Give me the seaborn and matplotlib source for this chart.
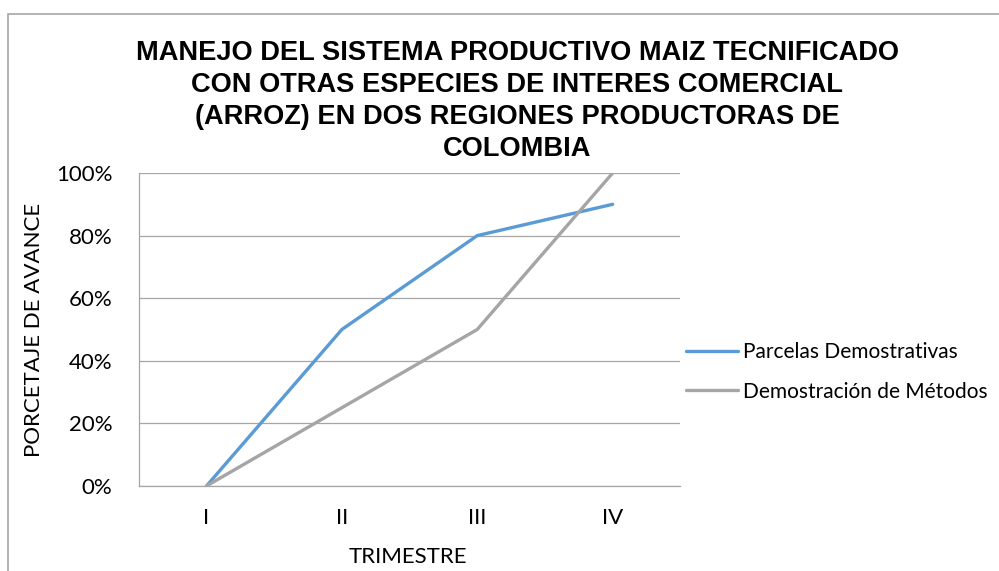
import numpy as np
import pandas as pd
import matplotlib
matplotlib.use('Agg')
import matplotlib.pyplot as plt
import seaborn as sns
from matplotlib.patches import Rectangle

# Data
trimestres = ['I', 'II', 'III', 'IV']
parcelas = [0.0, 0.5, 0.8, 0.9]
metodos = [0.0, 0.25, 0.5, 1.0]
series_names = ['Parcelas Demostrativas', 'Demostración de Métodos']
colors = ['#5B9BD5', '#A5A5A5']
y_ticks = [0, 0.2, 0.4, 0.6, 0.8, 1.0]
y_tick_labels = ['0%', '20%', '40%', '60%', '80%', '100%']

df = pd.DataFrame({
    'trimestre': trimestres * 2,
    'pos': list(range(len(trimestres))) * 2,
    'avance': parcelas + metodos,
    'serie': [series_names[0]] * 4 + [series_names[1]] * 4,
})

sns.set_style('white')
plt.rcParams['font.family'] = ['Lato', 'DejaVu Sans']
plt.rcParams['text.color'] = 'black'
plt.rcParams['xtick.color'] = 'black'
plt.rcParams['ytick.color'] = 'black'
plt.rcParams['axes.labelcolor'] = 'black'

fig = plt.figure(figsize=(9.99, 5.71), dpi=100)
ax = fig.add_axes([0.139, 0.149, 0.542, 0.548])

sns.lineplot(data=df, x='pos', y='avance', hue='serie', hue_order=series_names,
             palette=colors, linewidth=2.4, sort=False, ax=ax, legend=False)

ax.set_xlim(-0.5, 3.5)
ax.set_ylim(0, 1.0)
ax.set_xticks(range(len(trimestres)))
ax.set_xticklabels(trimestres, fontsize=16)
ax.set_yticks(y_ticks)
ax.set_yticklabels(y_tick_labels, fontsize=16)
ax.tick_params(axis='both', length=0)
ax.tick_params(axis='y', pad=19)
ax.tick_params(axis='x', pad=16)
for y in y_ticks:
    ax.axhline(y, color='#A6A6A6', linewidth=0.9, zorder=0)
for side in ['top', 'right']:
    ax.spines[side].set_visible(False)
for side in ['left', 'bottom']:
    ax.spines[side].set_color('#A6A6A6')
    ax.spines[side].set_linewidth(0.9)

ax.set_xlabel('TRIMESTRE', fontsize=16, va='center')
ax.xaxis.set_label_coords(0.496, -0.227)
ax.set_ylabel('PORCETAJE DE AVANCE', fontsize=16)
ax.yaxis.set_label_coords(-0.175, 0.5)

fig.text(0.518, 0.93,
         'MANEJO DEL SISTEMA PRODUCTIVO MAIZ TECNIFICADO\n'
         'CON OTRAS ESPECIES DE INTERES COMERCIAL\n'
         '(ARROZ) EN DOS REGIONES PRODUCTORAS DE\n'
         'COLOMBIA',
         ha='center', va='top', fontsize=19.6, fontweight='bold', color='black',
         family=['Liberation Sans', 'DejaVu Sans'], linespacing=1.3)

handles = [plt.Line2D([], [], color=c, linewidth=2.4) for c in colors]
fig.legend(handles, series_names, loc='center left', bbox_to_anchor=(0.668, 0.349),
           frameon=False, fontsize=15, handlelength=2.5, handletextpad=0.25,
           labelspacing=0.95)

# outer chart border
fig.patches.append(Rectangle((8 / 999, -0.1), 1.2, 1 - 14 / 571 + 0.1,
                             transform=fig.transFigure, fill=False,
                             edgecolor='#A6A6A6', linewidth=1.2))

fig.savefig('out.png', dpi=100)
